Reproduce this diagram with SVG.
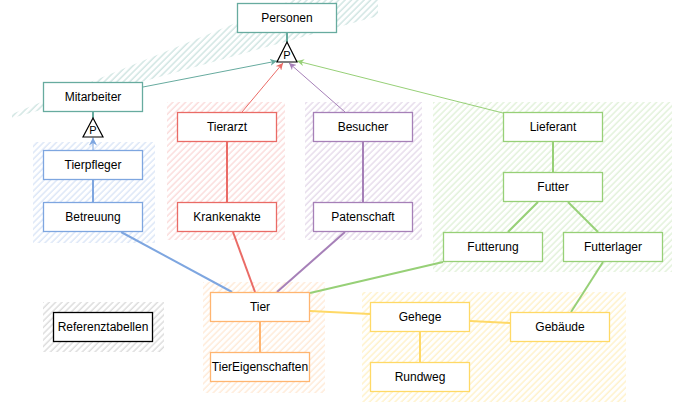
<svg xmlns="http://www.w3.org/2000/svg" width="674" height="403" viewBox="0 0 674 403">
<style>
text{font-family:"Liberation Sans",Arial,sans-serif;font-size:12px;fill:#000;text-anchor:middle;dominant-baseline:central}
.box{fill:#fff;stroke-width:1.3}
.c{fill:none;stroke-width:2}
.a{fill:none;stroke-width:1}
.teal{stroke:#67AB9F}.blue{stroke:#7EA6E0}.red{stroke:#EA6B66}.purple{stroke:#A680B8}.green{stroke:#97D077}.orange{stroke:#FFB570}.yellow{stroke:#FFD966}.black{stroke:#000}
.tri{fill:#fff;stroke:#000;stroke-width:1.2}
.p{font-size:11px}
</style>
<defs>
<pattern id="hTeal" width="4.5" height="4.5" patternUnits="userSpaceOnUse" patternTransform="rotate(45)"><line x1="1" y1="0" x2="1" y2="4.5" stroke="#67AB9F" stroke-opacity="0.45" stroke-width="1"/></pattern>
<pattern id="hBlue" width="4.5" height="4.5" patternUnits="userSpaceOnUse" patternTransform="rotate(45)"><line x1="1" y1="0" x2="1" y2="4.5" stroke="#7EA6E0" stroke-opacity="0.4" stroke-width="1"/></pattern>
<pattern id="hRed" width="4.5" height="4.5" patternUnits="userSpaceOnUse" patternTransform="rotate(45)"><line x1="1" y1="0" x2="1" y2="4.5" stroke="#EA6B66" stroke-opacity="0.35" stroke-width="1"/></pattern>
<pattern id="hPurple" width="4.5" height="4.5" patternUnits="userSpaceOnUse" patternTransform="rotate(45)"><line x1="1" y1="0" x2="1" y2="4.5" stroke="#A680B8" stroke-opacity="0.4" stroke-width="1"/></pattern>
<pattern id="hGreen" width="4.5" height="4.5" patternUnits="userSpaceOnUse" patternTransform="rotate(45)"><line x1="1" y1="0" x2="1" y2="4.5" stroke="#97D077" stroke-opacity="0.4" stroke-width="1"/></pattern>
<pattern id="hOrange" width="4.5" height="4.5" patternUnits="userSpaceOnUse" patternTransform="rotate(45)"><line x1="1" y1="0" x2="1" y2="4.5" stroke="#FFB570" stroke-opacity="0.4" stroke-width="1"/></pattern>
<pattern id="hYellow" width="4.5" height="4.5" patternUnits="userSpaceOnUse" patternTransform="rotate(45)"><line x1="1" y1="0" x2="1" y2="4.5" stroke="#FFD966" stroke-opacity="0.5" stroke-width="1"/></pattern>
<pattern id="hGray" width="4.5" height="4.5" patternUnits="userSpaceOnUse" patternTransform="rotate(45)"><line x1="1" y1="0" x2="1" y2="4.5" stroke="#999" stroke-opacity="0.5" stroke-width="1"/></pattern>
<marker id="mTeal" viewBox="0 0 10 10" refX="10" refY="5" markerWidth="7" markerHeight="7" orient="auto" markerUnits="userSpaceOnUse"><path d="M0,0 L10,5 L0,10 L3,5 Z" fill="#67AB9F"/></marker>
<marker id="mRed" viewBox="0 0 10 10" refX="10" refY="5" markerWidth="7" markerHeight="7" orient="auto" markerUnits="userSpaceOnUse"><path d="M0,0 L10,5 L0,10 L3,5 Z" fill="#EA6B66"/></marker>
<marker id="mPurple" viewBox="0 0 10 10" refX="10" refY="5" markerWidth="7" markerHeight="7" orient="auto" markerUnits="userSpaceOnUse"><path d="M0,0 L10,5 L0,10 L3,5 Z" fill="#A680B8"/></marker>
<marker id="mGreen" viewBox="0 0 10 10" refX="10" refY="5" markerWidth="7" markerHeight="7" orient="auto" markerUnits="userSpaceOnUse"><path d="M0,0 L10,5 L0,10 L3,5 Z" fill="#97D077"/></marker>
<marker id="mBlue" viewBox="0 0 10 10" refX="10" refY="5" markerWidth="8" markerHeight="8" orient="auto" markerUnits="userSpaceOnUse"><path d="M0,0 L10,5 L0,10 L3,5 Z" fill="#7EA6E0"/></marker>
</defs>

<g id="areas">
<polygon points="12,118 378,16 378,0 292,0 12,114" fill="url(#hTeal)"/>
<rect x="33" y="142" width="122" height="101" fill="url(#hBlue)"/>
<rect x="167" y="102" width="118" height="138" fill="url(#hRed)"/>
<rect x="305" y="102" width="117" height="138" fill="url(#hPurple)"/>
<rect x="433" y="102" width="239" height="170" fill="url(#hGreen)"/>
<rect x="203" y="282" width="122" height="111" fill="url(#hOrange)"/>
<rect x="362" y="292" width="264" height="110" fill="url(#hYellow)"/>
<rect x="43" y="302" width="121" height="50" fill="url(#hGray)"/>
</g>

<g id="connectors">
<line class="c teal" x1="287" y1="33" x2="287" y2="42"/>
<line class="c teal" x1="93" y1="112" x2="93" y2="118"/>
<line class="a teal" x1="143" y1="87" x2="277" y2="61" marker-end="url(#mTeal)"/>
<line class="a red" x1="242" y1="112" x2="283" y2="63" marker-end="url(#mRed)"/>
<line class="a purple" x1="345" y1="112" x2="289" y2="63" marker-end="url(#mPurple)"/>
<line class="a green" x1="503" y1="113" x2="297" y2="61" marker-end="url(#mGreen)"/>
<line class="a blue" x1="93" y1="150" x2="93" y2="137.5" stroke-width="1.5" marker-end="url(#mBlue)"/>
<line class="c blue" x1="93" y1="180" x2="93" y2="202"/>
<line class="c red" x1="227" y1="142" x2="227" y2="202"/>
<line class="c purple" x1="363" y1="142" x2="363" y2="202"/>
<line class="c green" x1="553" y1="142" x2="553" y2="172"/>
<line class="c green" x1="538" y1="202" x2="508" y2="232"/>
<line class="c green" x1="568" y1="202" x2="598" y2="232"/>
<line class="c blue" x1="121" y1="232" x2="232" y2="292"/>
<line class="c red" x1="233" y1="232" x2="255" y2="292"/>
<line class="c purple" x1="345" y1="232" x2="277" y2="292"/>
<line class="c green" x1="443" y1="262" x2="310" y2="293"/>
<line class="c green" x1="603" y1="262" x2="571" y2="312"/>
<line class="c orange" x1="260" y1="322" x2="260" y2="352"/>
<line class="c yellow" x1="310" y1="311" x2="370" y2="314"/>
<line class="c yellow" x1="470" y1="321" x2="510" y2="323"/>
<line class="c yellow" x1="420" y1="332" x2="420" y2="362"/>
</g>

<g id="Personen"><rect class="box teal" x="237.5" y="3.5" width="99" height="29"/><text x="287" y="18">Personen</text></g>
<g id="P1"><polygon class="tri" points="287,42 297,62 277,62"/><text class="p" x="287" y="55">P</text></g>
<g id="Mitarbeiter"><rect class="box teal" x="43.5" y="82.5" width="99" height="29"/><text x="93" y="97">Mitarbeiter</text></g>
<g id="P2"><polygon class="tri" points="93,118 103,137 83,137"/><text class="p" x="93" y="130">P</text></g>
<g id="Tierpfleger"><rect class="box blue" x="43.5" y="150.5" width="99" height="29"/><text x="93" y="165">Tierpfleger</text></g>
<g id="Betreuung"><rect class="box blue" x="43.5" y="202.5" width="99" height="29"/><text x="93" y="217">Betreuung</text></g>
<g id="Tierarzt"><rect class="box red" x="177.5" y="112.5" width="99" height="29"/><text x="227" y="127">Tierarzt</text></g>
<g id="Krankenakte"><rect class="box red" x="177.5" y="202.5" width="99" height="29"/><text x="227" y="217">Krankenakte</text></g>
<g id="Besucher"><rect class="box purple" x="313.5" y="112.5" width="99" height="29"/><text x="363" y="127">Besucher</text></g>
<g id="Patenschaft"><rect class="box purple" x="313.5" y="202.5" width="99" height="29"/><text x="363" y="217">Patenschaft</text></g>
<g id="Lieferant"><rect class="box green" x="503.5" y="112.5" width="99" height="29"/><text x="553" y="127">Lieferant</text></g>
<g id="Futter"><rect class="box green" x="503.5" y="172.5" width="99" height="29"/><text x="553" y="187">Futter</text></g>
<g id="Futterung"><rect class="box green" x="443.5" y="232.5" width="99" height="29"/><text x="493" y="247">Futterung</text></g>
<g id="Futterlager"><rect class="box green" x="563.5" y="232.5" width="99" height="29"/><text x="613" y="247">Futterlager</text></g>
<g id="Tier"><rect class="box orange" x="210.5" y="292.5" width="99" height="29"/><text x="260" y="307">Tier</text></g>
<g id="TierEigenschaften"><rect class="box orange" x="210.5" y="352.5" width="99" height="29"/><text x="260" y="367">TierEigenschaften</text></g>
<g id="Referenztabellen"><rect class="box black" x="53.5" y="312.5" width="99" height="29"/><text x="103" y="327">Referenztabellen</text></g>
<g id="Gehege"><rect class="box yellow" x="370.5" y="302.5" width="99" height="29"/><text x="420" y="317">Gehege</text></g>
<g id="Gebaeude"><rect class="box yellow" x="510.5" y="312.5" width="99" height="29"/><text x="560" y="327">Gebäude</text></g>
<g id="Rundweg"><rect class="box yellow" x="370.5" y="362.5" width="99" height="29"/><text x="420" y="377">Rundweg</text></g>
</svg>
